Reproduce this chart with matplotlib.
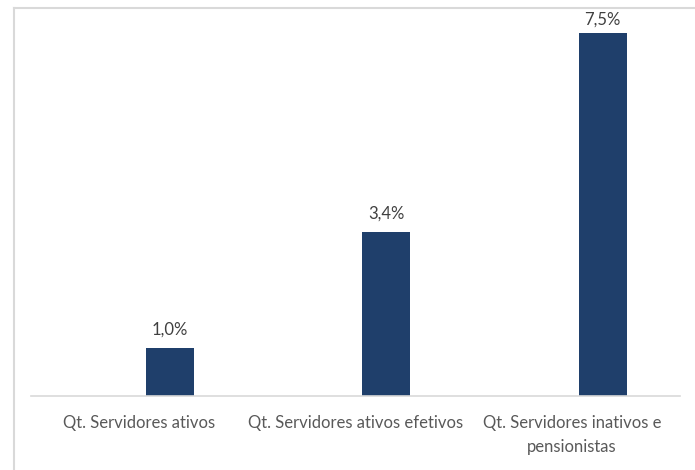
import matplotlib.pyplot as plt
from matplotlib.lines import Line2D
import numpy as np

categorias = ["Qt. Servidores ativos", "Qt. Servidores ativos efetivos",
              "Qt. Servidores inativos e\npensionistas"]
valores = [1.0, 3.4, 7.5]
rotulos = ["1,0%", "3,4%", "7,5%"]

plt.rcParams['font.family'] = ['Lato', 'DejaVu Sans']

W, H = 695, 470
fig = plt.figure(figsize=(W / 100, H / 100), dpi=100)
ax = fig.add_axes([31 / W, 74 / H, 649 / W, (396 - 9) / H])

x = np.arange(len(categorias))
desloc = 0.143
ax.bar(x + desloc, valores, width=0.222, color='#1f3f6b')

for xi, v, r in zip(x, valores, rotulos):
    # rótulo acima da barra, sem passar da borda superior
    ax.text(xi + desloc, min(v + 0.2, 7.62), r, ha='center', va='bottom',
            fontsize=12, color='#404040')

ax.set_xlim(-0.5, len(categorias) - 0.5)
ax.set_ylim(0, 8)
ax.set_xticks(x)
ax.set_xticklabels(categorias, fontsize=12, color='#595959', linespacing=1.6)
ax.tick_params(axis='x', length=0, pad=14)
ax.set_yticks([])
for s in ['top', 'right', 'left']:
    ax.spines[s].set_visible(False)
ax.spines['bottom'].set_color('#d9d9d9')
ax.spines['bottom'].set_linewidth(1.2)

# moldura da área do gráfico (cortada à direita e embaixo)
borda = dict(color='#d9d9d9', linewidth=1.5, transform=fig.transFigure)
fig.add_artist(Line2D([14 / W, 14 / W], [0, 1 - 8 / H], **borda))
fig.add_artist(Line2D([14 / W, 1], [1 - 8 / H, 1 - 8 / H], **borda))

fig.savefig("out.png", dpi=100)
